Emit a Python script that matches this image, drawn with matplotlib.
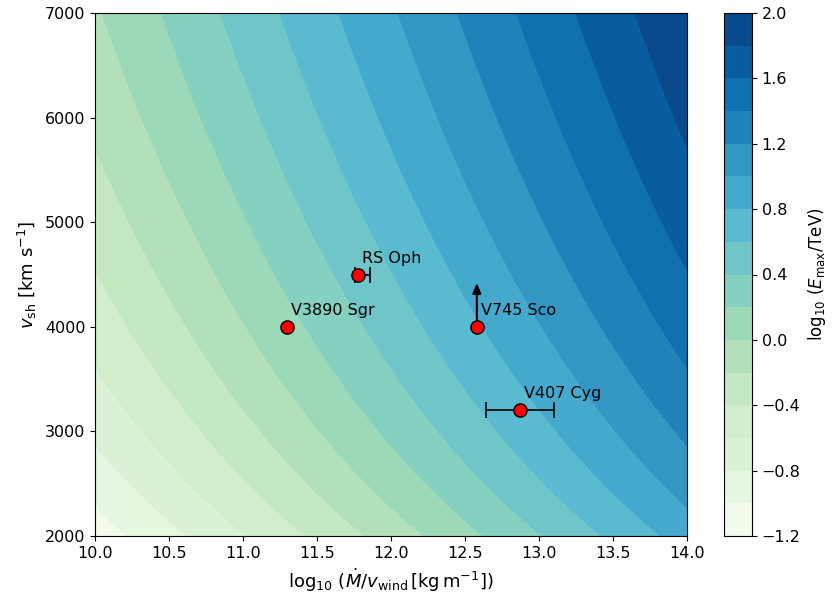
import numpy as np
import matplotlib
matplotlib.use("Agg")
import matplotlib.pyplot as plt

# Grid of wind density parameter and shock velocity
logx_range = [10.0, 14.0]           # log10(Mdot / v_wind [kg m^-1])
vsh_range = [2000.0, 7000.0]        # km/s

# Maximum-energy scaling: E_max ∝ v_sh^2 (Mdot/v_wind)^0.5
logE_ref = 0.49      # log10(E_max/TeV) at the reference point
logx_ref = 12.0
vsh_ref = 4000.0
idx_vsh = 2.0
idx_x = 0.5

levels = np.round(np.arange(-1.2, 2.01, 0.2), 2)
cbar_ticks = [-1.2, -0.8, -0.4, 0.0, 0.4, 0.8, 1.2, 1.6, 2.0]

# Novae
names = ["RS Oph", "V3890 Sgr", "V745 Sco", "V407 Cyg"]
nova_logx = [11.78, 11.30, 12.58, 12.87]
nova_vsh = [4500, 4000, 4000, 3200]
xerr_lo = [0.02, 0.0, 0.0, 0.23]
xerr_hi = [0.08, 0.0, 0.0, 0.23]
has_xerr = [True, False, False, True]
lower_limit_name = "V745 Sco"
lower_limit_arrow = 420  # km/s

fig = plt.figure(figsize=(8.32, 5.98), dpi=100)
W, H = 832, 598
ax = fig.add_axes([95 / W, 62 / H, 592 / W, 523 / H])
cax = fig.add_axes([724 / W, 62 / H, 28 / W, 523 / H])

lx = np.linspace(*logx_range, 400)
vv = np.linspace(*vsh_range, 400)
LX, VV = np.meshgrid(lx, vv)
logE = logE_ref + idx_x * (LX - logx_ref) + idx_vsh * np.log10(VV / vsh_ref)

cf = ax.contourf(LX, VV, logE, levels=levels, cmap="GnBu")
cb = fig.colorbar(cf, cax=cax, ticks=cbar_ticks)
cb.set_label(r"$\log_{10}\,(E_{\rm max}/{\rm TeV})$", fontsize=12)
cb.ax.tick_params(labelsize=11.5)

for name, x, v, lo, hi, e in zip(names, nova_logx, nova_vsh, xerr_lo, xerr_hi, has_xerr):
    if e:
        ax.errorbar(x, v, xerr=[[lo], [hi]], fmt="none", ecolor="black",
                    elinewidth=1.2, capsize=6, capthick=1.2, zorder=3)
    if name == lower_limit_name:
        ax.annotate("", xy=(x, v + lower_limit_arrow), xytext=(x, v),
                    arrowprops=dict(arrowstyle="-|>,head_length=0.6,head_width=0.25",
                                    color="black", lw=1.5, shrinkA=0, shrinkB=0),
                    zorder=3)
    ax.plot(x, v, "o", ms=9.5, mfc="red", mec="black", mew=1.0, zorder=4)
    ax.annotate(name, xy=(x, v), xytext=(4, 12), textcoords="offset pixels",
                ha="left", va="baseline", fontsize=11.5)

ax.set_xlim(*logx_range)
ax.set_ylim(*vsh_range)
ax.set_xticks(np.arange(10.0, 14.01, 0.5))
ax.set_yticks(np.arange(2000, 7001, 1000))
ax.tick_params(labelsize=11.5)
ax.set_xlabel(r"$\log_{10}\,(\dot{M}/v_{\rm wind}\,[{\rm kg\,m^{-1}}])$", fontsize=13)
ax.set_ylabel(r"$v_{\rm sh}$ [km s$^{-1}$]", fontsize=13)

fig.savefig("out.png", dpi=100)
